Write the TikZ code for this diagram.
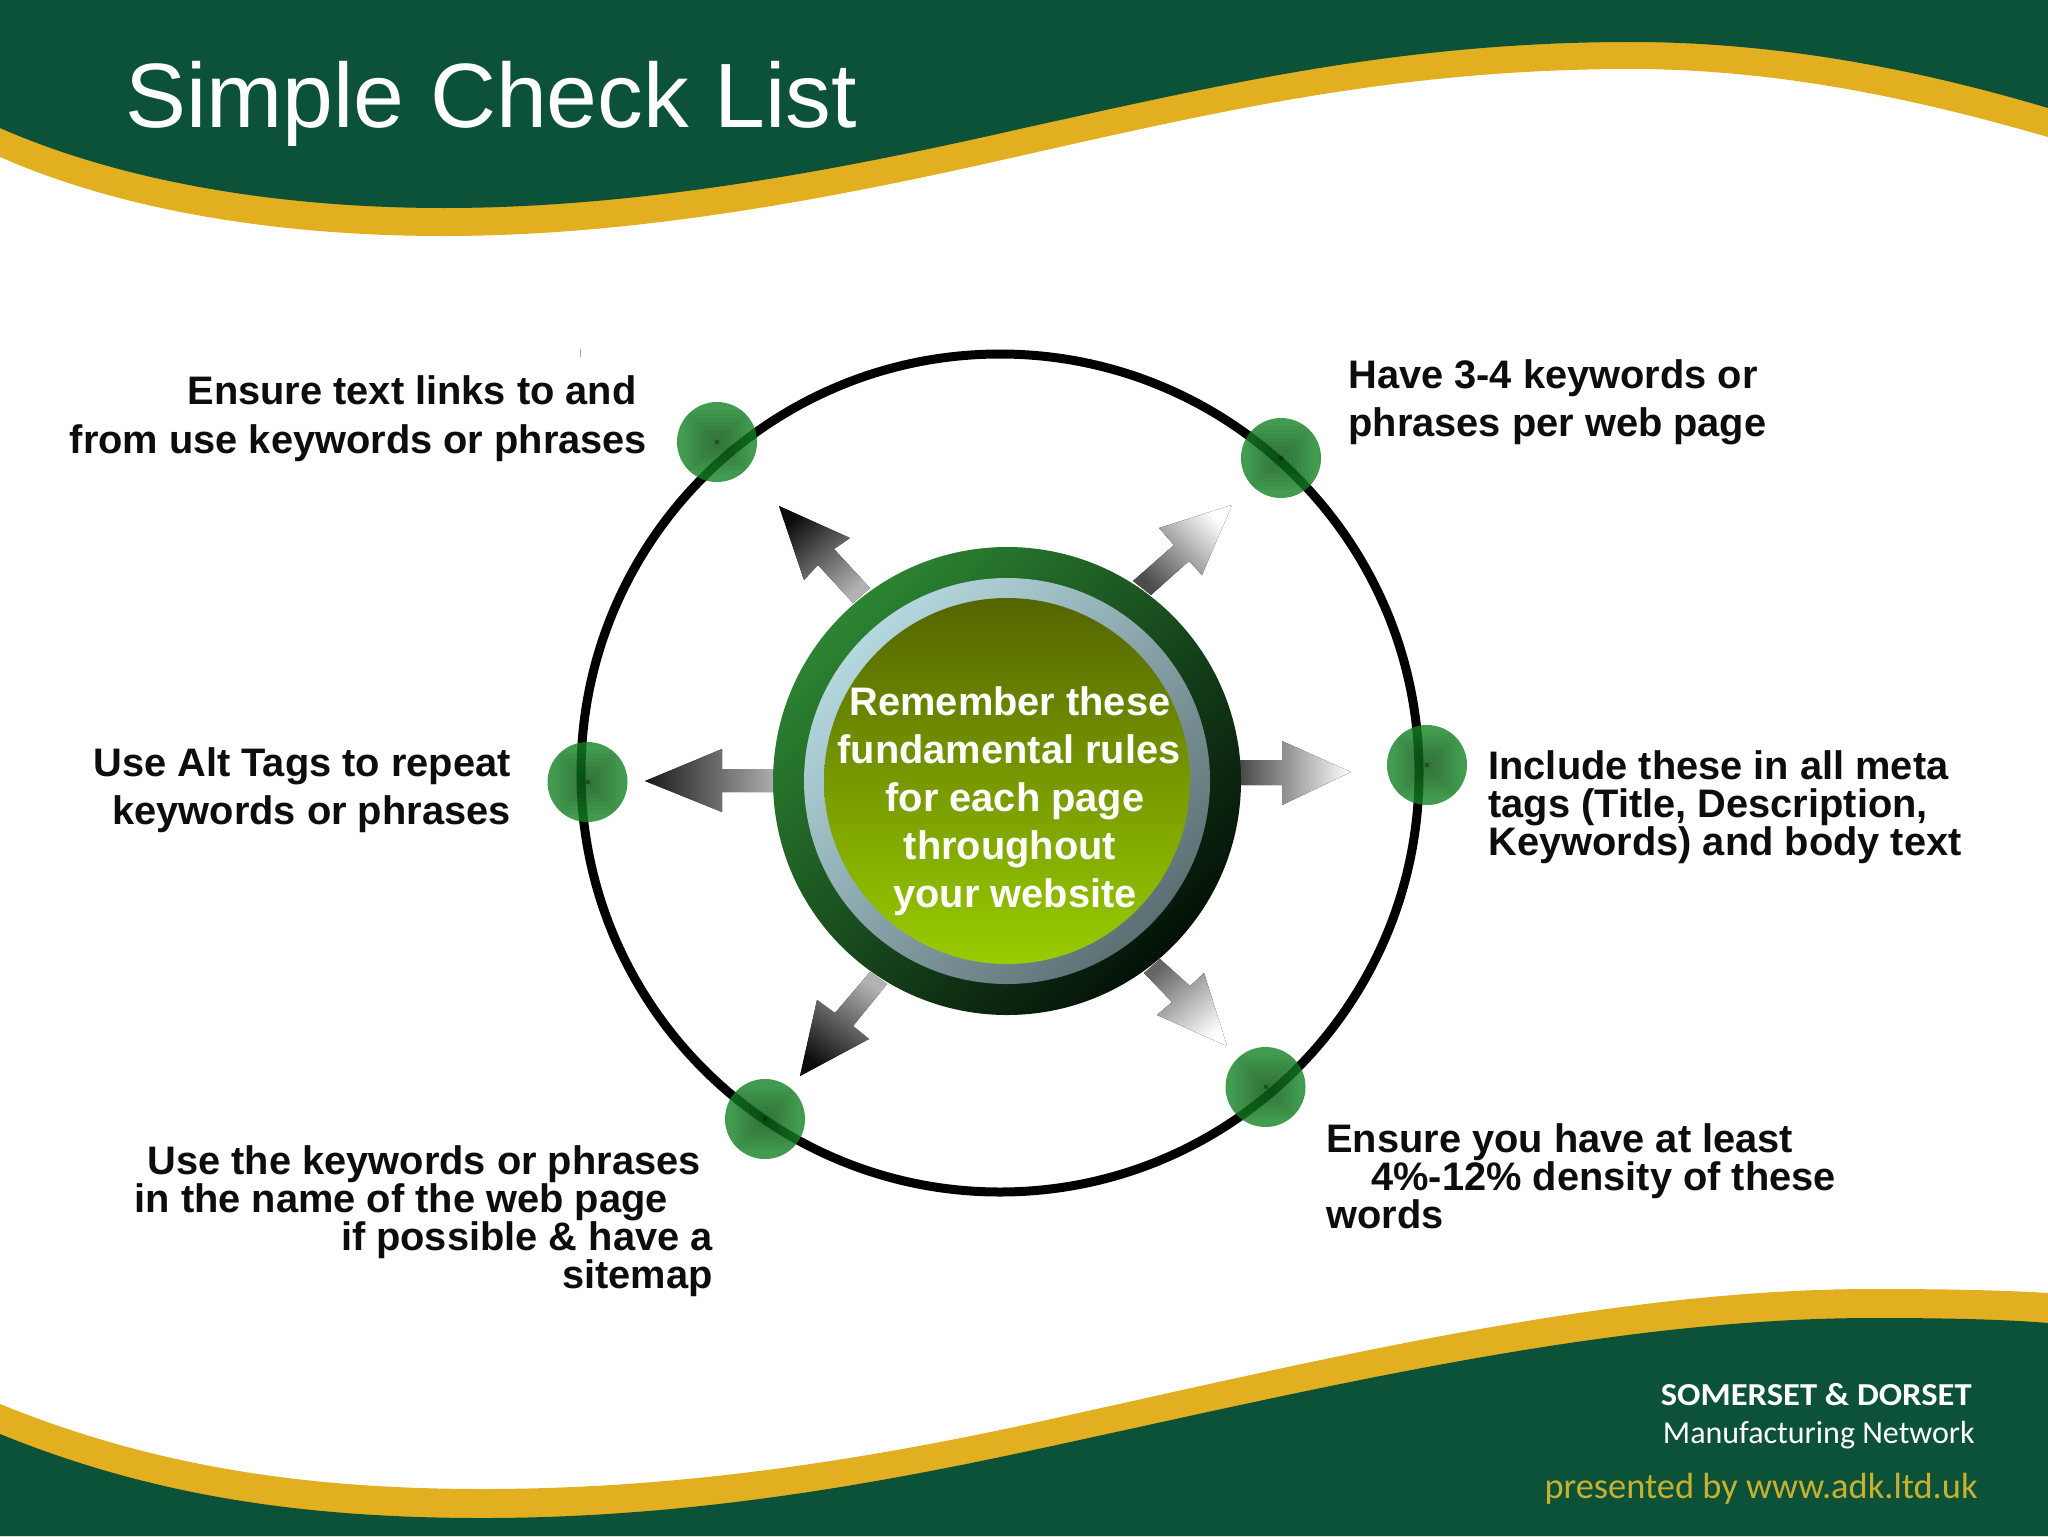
\documentclass[tikz,border=0pt]{standalone}
\usepackage{fontspec}
\setmainfont{Liberation Sans}
\newfontfamily\footfont{Carlito}
\definecolor{bandgreen}{HTML}{0C5238}
\definecolor{bandgold}{HTML}{E1AF1F}
\definecolor{dotgreen}{RGB}{20,130,35}
\definecolor{discA}{HTML}{2C8432}
\definecolor{discB}{HTML}{1A5A26}
\definecolor{discC}{HTML}{041208}
\definecolor{ringA}{HTML}{B4D8DE}
\definecolor{ringB}{HTML}{5C7074}
\definecolor{coreA}{HTML}{556500}
\definecolor{coreB}{HTML}{99CC00}
\definecolor{footgold}{RGB}{200,176,48}
\tikzset{
  x=0.5pt,y=-0.5pt,
  lbl/.style={inner sep=0pt,font=\fontsize{19.9pt}{24pt}\selectfont\bfseries,text=black!95},
  lblw/.style={lbl,anchor=base west},
  lble/.style={lbl,anchor=base east},
  ctr/.style={inner sep=0pt,anchor=base,font=\fontsize{19.9pt}{24pt}\selectfont\bfseries,text=white},
  dot/.style={circle,inner sep=0pt,minimum size=40pt,fill=dotgreen,fill opacity=.8,
    path picture={\foreach \s in {4,8,...,32}{\fill[black,fill opacity=.03] ([xshift=-\s*0.5pt,yshift=-\s*0.5pt]path picture bounding box.center) rectangle ([xshift=\s*0.5pt,yshift=\s*0.5pt]path picture bounding box.center);}
      \fill[black,fill opacity=.3] ([xshift=-1pt,yshift=-1pt]path picture bounding box.center) rectangle ([xshift=1pt,yshift=1pt]path picture bounding box.center);}}
}
\begin{document}
\begin{tikzpicture}
\path[use as bounding box,fill=white] (0,0) rectangle (2048,1536);
% top band
\fill[bandgold] (0,0) -- (2048,0) -- (2048,137) .. controls (1920,100) and (1780,69) .. (1631,69) .. controls (1400,69) and (1220,111) .. (1024,155) .. controls (840,197) and (640,236) .. (444,236) .. controls (290,236) and (130,214) .. (0,157) -- cycle;
\fill[bandgreen] (0,0) -- (2048,0) -- (2048,108) .. controls (1920,70) and (1780,42) .. (1631,42) .. controls (1400,42) and (1220,85) .. (1024,128) .. controls (840,170) and (640,208) .. (444,208) .. controls (290,208) and (130,185) .. (0,128) -- cycle;
% bottom band
\fill[bandgold] (0,1404) .. controls (150,1465) and (300,1489) .. (483,1489) .. controls (680,1489) and (860,1460) .. (1024,1425) .. controls (1300,1365) and (1600,1289) .. (1873,1289) .. controls (1940,1289) and (2000,1290) .. (2048,1293) -- (2048,1536) -- (0,1536) -- cycle;
\fill[bandgreen] (0,1434) .. controls (150,1495) and (300,1518) .. (483,1518) .. controls (680,1518) and (860,1487) .. (1024,1452) .. controls (1300,1393) and (1600,1318) .. (1873,1318) .. controls (1940,1318) and (2000,1319) .. (2048,1323) -- (2048,1536) -- (0,1536) -- cycle;
\node[inner sep=0pt,anchor=base west,text=white,font=\fontsize{45.7pt}{50pt}\selectfont] (title) at (125,127) {Simple Check List};
% ring
\node[circle,draw=black,line width=4.5pt,inner sep=0pt,minimum size=419pt] (ring) at (1000,773) {};
\draw[gray!70,line width=.5pt] (580.5,349) -- (580.5,357);
% arrows
\fill[left color=black!90,right color=black!30] (645,781) -- (722,749) -- (722,769) -- (780,769) -- (780,792) -- (722,792) -- (722,812) -- cycle;
\fill[left color=black!75,right color=white] (1235,760) -- (1282,760) -- (1282,741) -- (1351,772) -- (1282,805) -- (1282,785) -- (1235,785) -- cycle;
\fill[top color=black!95,bottom color=black!30,shading angle=40] (779,506) -- (850,538) -- (834,549) -- (870,588) -- (853,603) -- (818,565) -- (804,580) -- cycle;
\fill[bottom color=black!70,top color=white,shading angle=-45] (1232,505) -- (1202,575) -- (1189,561) -- (1151,595) -- (1133,581) -- (1174,545) -- (1159,528) -- cycle;
\fill[bottom color=black!95,top color=black!30,shading angle=-35] (800,1076) -- (817,1000) -- (835,1013) -- (870,972) -- (887,984) -- (853,1026) -- (869,1039) -- cycle;
\fill[top color=black!60,bottom color=white,shading angle=40] (1227,1046) -- (1157,1015) -- (1172,1002) -- (1144,973) -- (1160,959) -- (1190,986) -- (1204,973) -- cycle;
% central disc
\node[circle,inner sep=0pt,minimum size=234pt,top color=discA,middle color=discB,bottom color=discC,shading angle=45] (disc) at (1007,781) {};
\node[circle,inner sep=0pt,minimum size=203pt,top color=ringA,bottom color=ringB,shading angle=45] (band) at (1007,781) {};
\node[circle,inner sep=0pt,minimum size=183pt,top color=coreA,bottom color=coreB] (core) at (1007,781) {};
\node[ctr] (c1) at (1010,715) {Remember these};
\node[ctr] (c2) at (1009,763) {fundamental rules};
\node[ctr] (c3) at (1015,811) {for each page};
\node[ctr] (c4) at (1010,859) {throughout};
\node[ctr] (c5) at (1015,907) {your website};
% dots
\node[dot] (d1) at (717,442) {};
\node[dot] (d2) at (1281,458) {};
\node[dot] (d3) at (587.5,782) {};
\node[dot] (d4) at (1427,765) {};
\node[dot] (d5) at (765,1119) {};
\node[dot] (d6) at (1265.5,1087) {};
% labels
\node[lble] (a1) at (637,404) {Ensure text links to and};
\node[lble] (a2) at (647.5,453) {from use keywords or phrases};
\node[lblw] (b1) at (1348,388) {Have 3-4 keywords or};
\node[lblw] (b2) at (1348,436) {phrases per web page};
\node[lblw] (e1) at (1488,779) {Include these in all meta};
\node[lblw] (e2) at (1488,817) {tags (Title, Description,};
\node[lblw] (e3) at (1488,855) {Keywords) and body text};
\node[lble] (f1) at (511,776) {Use Alt Tags to repeat};
\node[lble] (f2) at (511,824) {keywords or phrases};
\node[lble] (g1) at (701,1174) {Use the keywords or phrases};
\node[lble] (g2) at (668,1212) {in the name of the web page};
\node[lble] (g3) at (713,1250) {if possible \& have a};
\node[lble] (g4) at (713,1288) {sitemap};
\node[lblw] (h1) at (1326,1152) {Ensure you have at least};
\node[lblw] (h2) at (1371,1190) {4\%-12\% density of these};
\node[lblw] (h3) at (1326,1228) {words};
% footer
\node[inner sep=0pt,anchor=base east,text=white,font=\footfont\fontsize{16pt}{18pt}\selectfont\bfseries] (s1) at (1972,1405) {\scalebox{1.08}[1]{SOMERSET \& DORSET}};
\node[inner sep=0pt,anchor=base east,text=white,font=\footfont\fontsize{16pt}{18pt}\selectfont] (s2) at (1975,1443) {Manufacturing Network};
\node[inner sep=0pt,anchor=base east,text=footgold,font=\footfont\fontsize{18.2pt}{21pt}\selectfont] (s3) at (1978,1498) {presented by www.adk.ltd.uk};
\end{tikzpicture}
\end{document}
